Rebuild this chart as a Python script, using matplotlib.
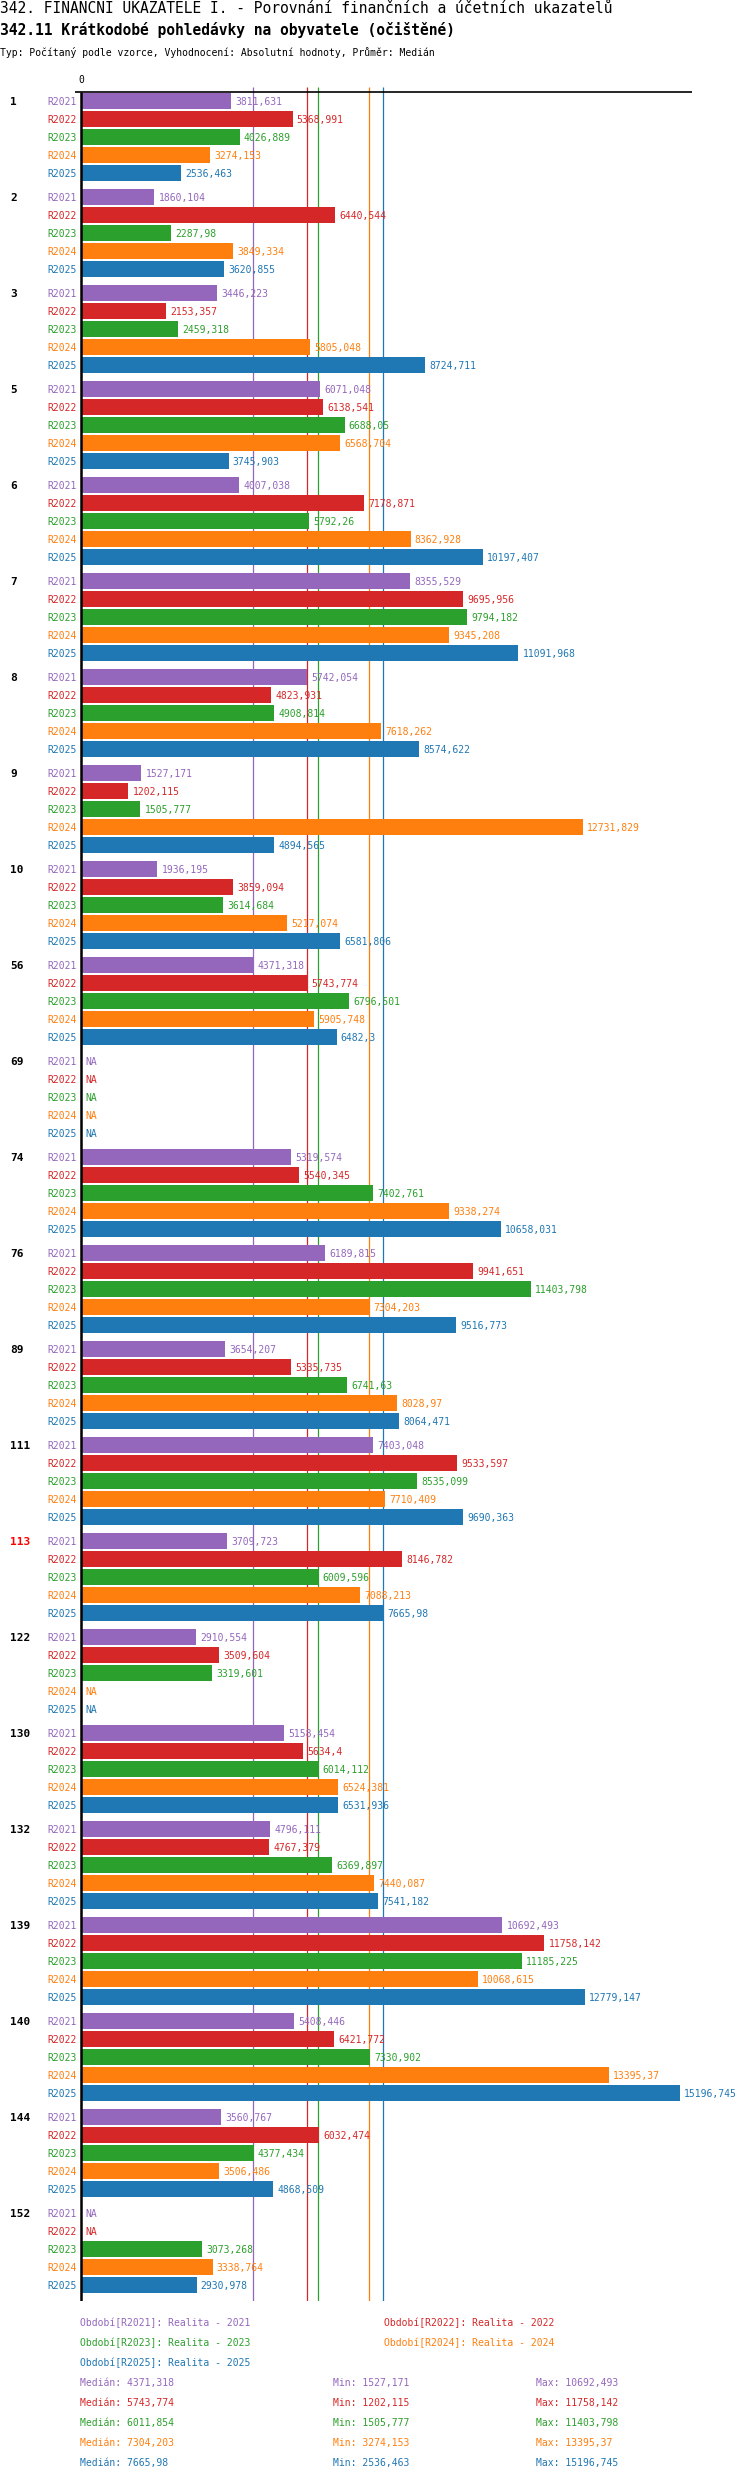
import numpy as np
import matplotlib
matplotlib.use("Agg")
import matplotlib.pyplot as plt

plt.rcParams['font.family'] = ['DejaVu Sans Mono', 'DejaVu Sans']

NA = np.nan

groups = ["1", "2", "3", "5", "6", "7", "8", "9", "10", "56", "69", "74", "76", "89",
          "111", "113", "122", "130", "132", "139", "140", "144", "152"]
highlight = "113"

series = ["R2021", "R2022", "R2023", "R2024", "R2025"]
series_names = ["Realita - 2021", "Realita - 2022", "Realita - 2023",
                "Realita - 2024", "Realita - 2025"]
colors = ["#9467bd", "#d62728", "#2ca02c", "#ff7f0e", "#1f77b4"]

r2021 = [3811.631, 1860.104, 3446.223, 6071.048, 4007.038, 8355.529, 5742.054, 1527.171,
         1936.195, 4371.318, NA, 5319.574, 6189.815, 3654.207, 7403.048, 3709.723,
         2910.554, 5158.454, 4796.111, 10692.493, 5408.446, 3560.767, NA]
r2022 = [5368.991, 6440.544, 2153.357, 6138.541, 7178.871, 9695.956, 4823.931, 1202.115,
         3859.094, 5743.774, NA, 5540.345, 9941.651, 5335.735, 9533.597, 8146.782,
         3509.604, 5634.4, 4767.379, 11758.142, 6421.772, 6032.474, NA]
r2023 = [4026.889, 2287.98, 2459.318, 6688.05, 5792.26, 9794.182, 4908.814, 1505.777,
         3614.684, 6796.501, NA, 7402.761, 11403.798, 6741.63, 8535.099, 6009.596,
         3319.601, 6014.112, 6369.897, 11185.225, 7330.902, 4377.434, 3073.268]
r2024 = [3274.153, 3849.334, 5805.048, 6568.704, 8362.928, 9345.208, 7618.262, 12731.829,
         5217.074, 5905.748, NA, 9338.274, 7304.203, 8028.97, 7710.409, 7088.213,
         NA, 6524.381, 7440.087, 10068.615, 13395.37, 3506.486, 3338.764]
r2025 = [2536.463, 3620.855, 8724.711, 3745.903, 10197.407, 11091.968, 8574.622, 4894.565,
         6581.806, 6482.3, NA, 10658.031, 9516.773, 8064.471, 9690.363, 7665.98,
         NA, 6531.936, 7541.182, 12779.147, 15196.745, 4868.509, 2930.978]
values = [r2021, r2022, r2023, r2024, r2025]


def fmt(v):
    return f"{float(v):.3f}".rstrip('0').rstrip('.').replace('.', ',')


W, H = 750, 2480
fig = plt.figure(figsize=(W / 100, H / 100), dpi=100)

# one row = 18 px, groups separated by one third of a row
gap = 1 / 3
step = len(series) + gap
y_top = -0.78
y_bot = (len(groups) - 1) * step + len(series) - 1 + 0.89
ax = fig.add_axes([75 / W, 1 - 2301 / H, 617 / W, 2214 / H])
ax.set_xlim(-152, 15500)
ax.set_ylim(y_bot, y_top)
ax.axis('off')

# median lines
for vals, c in zip(values, colors):
    ax.vlines(np.nanmedian(vals), y_top, y_bot, color=c, lw=0.9, zorder=1)

ax.axhline(-0.5, color='black', lw=1.2, zorder=3)
ax.vlines(0, -0.5, y_bot, color='black', lw=1.8, zorder=4)
ax.annotate("0", xy=(0, -0.5), xytext=(0, 5), textcoords='offset points',
            ha='center', va='bottom', fontsize=7, annotation_clip=False)

for g, name in enumerate(groups):
    base = g * step
    ax.annotate(name, xy=(10, base), xycoords=('figure pixels', 'data'),
                ha='left', va='center_baseline', fontsize=8, fontweight='bold',
                color='#ff0000' if name == highlight else 'black')
    for j, (vals, c, s) in enumerate(zip(values, colors, series)):
        y = base + j
        v = vals[g]
        ax.annotate(s, xy=(0, y), xytext=(-3, 0), textcoords='offset points',
                    ha='right', va='center_baseline', fontsize=7, color=c,
                    annotation_clip=False)
        if np.isnan(v):
            ax.annotate("NA", xy=(0, y), xytext=(3, 0), textcoords='offset points',
                        ha='left', va='center_baseline', fontsize=7, color=c, zorder=5)
        else:
            ax.barh(y, v, height=0.86, color=c, zorder=2)
            ax.annotate(fmt(v), xy=(v, y), xytext=(3, 0), textcoords='offset points',
                        ha='left', va='center_baseline', fontsize=7, color=c, zorder=5,
                        annotation_clip=False)

# header
fig.text(0, 1 - 13 / H, "342. FINANČNÍ UKAZATELE I. - Porovnání finančních a účetních ukazatelů",
         fontsize=10.5, va='baseline', ha='left')
fig.text(0, 1 - 35 / H, "342.11 Krátkodobé pohledávky na obyvatele (očištěné)",
         fontsize=10.5, fontweight='bold', va='baseline', ha='left')
fig.text(0, 1 - 56 / H, "Typ: Počítaný podle vzorce, Vyhodnocení: Absolutní hodnoty, Průměr: Medián",
         fontsize=7, va='baseline', ha='left')

# legend
for i, (s, n, c) in enumerate(zip(series, series_names, colors)):
    x = 80 if i % 2 == 0 else 384
    y = 2322 + (i // 2) * 20
    fig.text(x / W, 1 - y / H, f"Období[{s}]: {n}", fontsize=7, color=c,
             va='center_baseline')

for i, (vals, c) in enumerate(zip(values, colors)):
    y = 2382 + i * 20
    fig.text(80 / W, 1 - y / H, "Medián: " + fmt(np.nanmedian(vals)), fontsize=7, color=c,
             va='center_baseline')
    fig.text(333 / W, 1 - y / H, "Min: " + fmt(np.nanmin(vals)), fontsize=7, color=c,
             va='center_baseline')
    fig.text(536 / W, 1 - y / H, "Max: " + fmt(np.nanmax(vals)), fontsize=7, color=c,
             va='center_baseline')

fig.savefig("out.png", dpi=100)
